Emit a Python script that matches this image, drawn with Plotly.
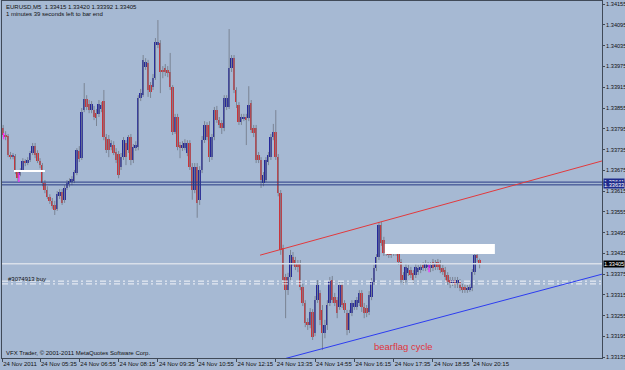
import plotly.graph_objects as go
import pandas as pd

# ---------------- data ----------------
bar_start = "2011-11-24 04:20"
n_bars = 195
bar_ms = 5 * 60 * 1000

open_ = [
1.33797,1.33777,1.33774,1.33719,1.33713,1.33716,1.33670,1.33661,1.33676,1.33702,
1.33696,1.33705,1.33725,1.33745,1.33725,1.33702,1.33690,1.33638,1.33618,1.33598,
1.33587,1.33575,1.33564,1.33600,1.33612,1.33590,1.33624,1.33635,1.33641,1.33644,
1.33667,1.33731,1.33710,1.33849,1.33881,1.33866,1.33849,1.33849,1.33840,1.33838,
1.33852,1.33875,1.33771,1.33765,1.33742,1.33748,1.33728,1.33722,1.33684,1.33713,
1.33754,1.33733,1.33771,1.33705,1.33739,1.33742,1.33884,1.33892,1.33973,1.33985,
1.33921,1.33915,1.33941,1.34037,1.34043,1.33965,1.33970,1.33965,1.33959,1.33915,
1.33786,1.33829,1.33748,1.33739,1.33739,1.33725,1.33754,1.33684,1.33618,1.33684,
1.33590,1.33676,1.33762,1.33806,1.33806,1.33713,1.33771,1.33849,1.33820,1.33812,
1.33797,1.33858,1.33858,1.33970,1.33999,1.33907,1.33864,1.33814,1.33826,1.33829,
1.33826,1.33869,1.33797,1.33797,1.33719,1.33705,1.33638,1.33647,1.33699,1.33713,
1.33771,1.33786,1.33713,1.33609,1.33451,1.33367,1.33329,1.33367,1.33425,1.33416,
1.33407,1.33407,1.33338,1.33292,1.33237,1.33228,1.33266,1.33205,1.33300,1.33321,
1.33272,1.33205,1.33228,1.33292,1.33358,1.33309,1.33300,1.33280,1.33344,1.33292,
1.33263,1.33214,1.33263,1.33280,1.33280,1.33292,1.33321,1.33280,1.33277,1.33266,
1.33309,1.33352,1.33393,1.33425,1.33517,1.33474,1.33436,1.33439,1.33439,1.33436,
1.33451,1.33439,1.33410,1.33373,1.33358,1.33378,1.33387,1.33378,1.33373,1.33381,
1.33387,1.33402,1.33393,1.33396,1.33393,1.33410,1.33396,1.33410,1.33407,1.33393,
1.33387,1.33373,1.33358,1.33350,1.33358,1.33350,1.33352,1.33338,1.33338,1.33329,
1.33329,1.33335,1.33381,1.33431,1.33415]

high = [
1.33806,1.33788,1.33780,1.33728,1.33725,1.33722,1.33676,1.33681,1.33710,1.33707,
1.33713,1.33731,1.33754,1.33754,1.33733,1.33710,1.33696,1.33647,1.33629,1.33606,
1.33595,1.33587,1.33615,1.33621,1.33621,1.33632,1.33647,1.33652,1.33658,1.33676,
1.33739,1.33745,1.33855,1.33927,1.33892,1.33878,1.33875,1.33861,1.33852,1.33878,
1.33872,1.33907,1.33780,1.33777,1.33762,1.33759,1.33739,1.33731,1.33725,1.33771,
1.33762,1.33777,1.33780,1.33751,1.33759,1.33892,1.33910,1.34008,1.33999,1.33994,
1.33930,1.33953,1.34057,1.34109,1.34051,1.33976,1.33982,1.33976,1.34014,1.33921,
1.33838,1.33838,1.33757,1.33759,1.33765,1.33762,1.33762,1.33696,1.33696,1.33696,
1.33687,1.33774,1.33817,1.33814,1.33817,1.33780,1.33858,1.33861,1.33829,1.33820,
1.33892,1.33892,1.34083,1.34008,1.34008,1.33915,1.33872,1.33838,1.33838,1.33838,
1.33918,1.33878,1.33806,1.33806,1.33728,1.33713,1.33670,1.33713,1.33728,1.33780,
1.33809,1.33849,1.33722,1.33618,1.33460,1.33376,1.33379,1.33445,1.33439,1.33425,
1.33416,1.33416,1.33347,1.33300,1.33248,1.33277,1.33274,1.33312,1.33358,1.33329,
1.33286,1.33243,1.33300,1.33367,1.33370,1.33321,1.33309,1.33352,1.33352,1.33300,
1.33272,1.33272,1.33300,1.33300,1.33309,1.33329,1.33329,1.33292,1.33286,1.33326,
1.33364,1.33402,1.33433,1.33526,1.33526,1.33483,1.33460,1.33448,1.33448,1.33454,
1.33457,1.33448,1.33419,1.33381,1.33404,1.33402,1.33396,1.33387,1.33404,1.33402,
1.33404,1.33410,1.33416,1.33410,1.33410,1.33419,1.33416,1.33419,1.33416,1.33402,
1.33396,1.33381,1.33367,1.33367,1.33367,1.33367,1.33361,1.33347,1.33347,1.33344,
1.33347,1.33390,1.33460,1.33454,1.33420]

low = [
1.33771,1.33762,1.33713,1.33707,1.33707,1.33664,1.33644,1.33658,1.33670,1.33687,
1.33690,1.33699,1.33719,1.33710,1.33696,1.33681,1.33629,1.33609,1.33592,1.33578,
1.33564,1.33546,1.33558,1.33592,1.33575,1.33581,1.33618,1.33626,1.33632,1.33638,
1.33661,1.33699,1.33705,1.33843,1.33849,1.33840,1.33840,1.33820,1.33803,1.33829,
1.33843,1.33762,1.33725,1.33713,1.33733,1.33719,1.33696,1.33652,1.33676,1.33705,
1.33690,1.33725,1.33690,1.33696,1.33731,1.33733,1.33875,1.33887,1.33965,1.33887,
1.33884,1.33907,1.33936,1.34028,1.33898,1.33941,1.33947,1.33944,1.33907,1.33777,
1.33780,1.33733,1.33710,1.33731,1.33733,1.33716,1.33676,1.33590,1.33609,1.33538,
1.33575,1.33667,1.33754,1.33762,1.33699,1.33705,1.33762,1.33812,1.33797,1.33780,
1.33788,1.33849,1.33852,1.33959,1.33898,1.33855,1.33806,1.33806,1.33817,1.33748,
1.33817,1.33783,1.33771,1.33696,1.33696,1.33624,1.33629,1.33641,1.33690,1.33705,
1.33762,1.33705,1.33600,1.33431,1.33344,1.33248,1.33315,1.33358,1.33399,1.33387,
1.33381,1.33329,1.33283,1.33222,1.33214,1.33219,1.33185,1.33196,1.33292,1.33228,
1.33156,1.33190,1.33214,1.33283,1.33292,1.33283,1.33248,1.33272,1.33277,1.33263,
1.33199,1.33205,1.33254,1.33272,1.33272,1.33283,1.33266,1.33248,1.33251,1.33257,
1.33300,1.33344,1.33384,1.33416,1.33457,1.33428,1.33428,1.33422,1.33422,1.33428,
1.33428,1.33402,1.33350,1.33344,1.33350,1.33370,1.33364,1.33350,1.33364,1.33373,
1.33378,1.33384,1.33384,1.33387,1.33381,1.33384,1.33387,1.33387,1.33378,1.33373,
1.33358,1.33344,1.33335,1.33341,1.33335,1.33335,1.33326,1.33321,1.33321,1.33321,
1.33324,1.33326,1.33373,1.33410,1.33392]

close = [
1.33777,1.33774,1.33719,1.33716,1.33719,1.33670,1.33652,1.33673,1.33702,1.33696,
1.33705,1.33725,1.33745,1.33719,1.33702,1.33690,1.33638,1.33618,1.33598,1.33587,
1.33572,1.33561,1.33606,1.33612,1.33581,1.33624,1.33638,1.33644,1.33650,1.33670,
1.33733,1.33707,1.33843,1.33881,1.33858,1.33849,1.33866,1.33829,1.33826,1.33866,
1.33864,1.33771,1.33733,1.33733,1.33754,1.33725,1.33705,1.33661,1.33713,1.33762,
1.33713,1.33771,1.33705,1.33742,1.33748,1.33884,1.33898,1.33994,1.33988,1.33907,
1.33901,1.33941,1.34046,1.34046,1.33959,1.33959,1.33959,1.33956,1.33915,1.33786,
1.33829,1.33742,1.33739,1.33748,1.33754,1.33754,1.33684,1.33618,1.33684,1.33581,
1.33676,1.33762,1.33806,1.33771,1.33713,1.33771,1.33849,1.33820,1.33806,1.33797,
1.33884,1.33884,1.33970,1.33999,1.33907,1.33872,1.33814,1.33829,1.33829,1.33820,
1.33864,1.33791,1.33783,1.33705,1.33705,1.33647,1.33661,1.33705,1.33719,1.33771,
1.33786,1.33713,1.33609,1.33445,1.33358,1.33329,1.33367,1.33431,1.33407,1.33396,
1.33396,1.33338,1.33292,1.33234,1.33228,1.33266,1.33193,1.33300,1.33344,1.33243,
1.33205,1.33228,1.33286,1.33355,1.33300,1.33292,1.33263,1.33344,1.33286,1.33272,
1.33214,1.33263,1.33292,1.33292,1.33300,1.33321,1.33280,1.33263,1.33263,1.33315,
1.33352,1.33393,1.33425,1.33517,1.33465,1.33436,1.33451,1.33431,1.33431,1.33445,
1.33436,1.33410,1.33358,1.33358,1.33396,1.33393,1.33373,1.33358,1.33396,1.33393,
1.33396,1.33393,1.33407,1.33402,1.33402,1.33393,1.33407,1.33396,1.33387,1.33381,
1.33367,1.33352,1.33350,1.33358,1.33344,1.33358,1.33335,1.33329,1.33329,1.33335,
1.33338,1.33381,1.33431,1.33422,1.33405]

# axis
x_range = ["2011-11-24 04:17:36", "2011-11-25 00:39:06"]
y_range = [1.33133, 1.34164]
price_ticks = [1.34155, 1.34095, 1.34035, 1.33975, 1.33915, 1.33855, 1.33795, 1.33735,
               1.33675, 1.33615, 1.33555, 1.33495, 1.33435, 1.33375, 1.33315, 1.33255,
               1.33195, 1.33135]
time_ticks = ["2011-11-24 04:18", "2011-11-24 05:35", "2011-11-24 06:55", "2011-11-24 08:15",
              "2011-11-24 09:35", "2011-11-24 10:55", "2011-11-24 12:15", "2011-11-24 13:35",
              "2011-11-24 14:55", "2011-11-24 16:15", "2011-11-24 17:35", "2011-11-24 18:55",
              "2011-11-24 20:15"]
time_labels = ["24 Nov 2011", "24 Nov 05:35", "24 Nov 06:55", "24 Nov 08:15", "24 Nov 09:35",
               "24 Nov 10:55", "24 Nov 12:15", "24 Nov 13:35", "24 Nov 14:55", "24 Nov 16:15",
               "24 Nov 17:35", "24 Nov 18:55", "24 Nov 20:15"]

# chart objects
hlines_navy = [1.33641, 1.33633]
navy_labels = ["1.33641", "1.33633"]
bid_price = 1.33405
order_lines = [1.33355, 1.33347]
order_text = "#3074913 buy"
order_text_price = 1.33362
red_trend_t = ["2011-11-24 13:03", "2011-11-25 00:39"]
red_trend_p = [1.33430, 1.33702]
blue_trend_t = ["2011-11-24 13:55:48", "2011-11-25 00:39"]
blue_trend_p = [1.33132, 1.33375]
rect_t = ["2011-11-24 17:17", "2011-11-24 21:01"]
rect_p = [1.33433, 1.33462]
short_line_t = ["2011-11-24 04:42", "2011-11-24 05:45"]
short_line_p = 1.33673
magenta_t = ["2011-11-24 04:21", "2011-11-24 04:52", "2011-11-24 18:47"]
magenta_top = [1.33783, 1.33667, 1.33402]
magenta_bot = [1.33765, 1.33641, 1.33381]
note_t = "2011-11-24 16:51"
note_p = 1.33167
note_text = "bearflag cycle"
title1 = "EURUSD,M5  1.33415 1.33420 1.33392 1.33405"
title2 = "1 minutes 39 seconds left to bar end"
copyright_text = "VFX Trader, \u00a9 2001-2011 MetaQuotes Software Corp."

# ---------------- styles ----------------
BG = "#a6b9d3"
FRAME = "#404a58"
UP = "#25289a"
DOWN = "#c8343a"
WICK = "#7a8494"
FONT = "Liberation Sans, Arial, sans-serif"
FS = 6
FS_Y = 5.6

times = pd.date_range(bar_start, periods=n_bars, freq="5min")

fig = go.Figure()

# wicks
wx, wy = [], []
for t, h, l in zip(times, high, low):
    wx += [t, t, None]
    wy += [l, h, None]
fig.add_trace(go.Scatter(x=wx, y=wy, mode="lines", line=dict(color=WICK, width=1),
                         hoverinfo="skip"))

# bodies
ux, ub, uh, dx, db, dh = [], [], [], [], [], []
for t, o, c in zip(times, open_, close):
    lo, hi = min(o, c), max(o, c)
    size = max(hi - lo, 0.00002)
    if c >= o:
        ux.append(t); ub.append(lo); uh.append(size)
    else:
        dx.append(t); db.append(lo); dh.append(size)
fig.add_trace(go.Bar(x=ux, y=uh, base=ub, marker=dict(color=UP, line=dict(width=0)),
                     width=bar_ms * 0.8))
fig.add_trace(go.Bar(x=dx, y=dh, base=db, marker=dict(color=DOWN, line=dict(width=0)),
                     width=bar_ms * 0.8))

# horizontal navy lines
for p in hlines_navy:
    fig.add_trace(go.Scatter(x=x_range, y=[p, p], mode="lines",
                             line=dict(color="#283a86", width=1), hoverinfo="skip"))
# bid line
fig.add_trace(go.Scatter(x=x_range, y=[bid_price, bid_price], mode="lines",
                         line=dict(color="#d9e0ea", width=1.5), hoverinfo="skip"))
# order lines
for p in order_lines:
    fig.add_trace(go.Scatter(x=x_range, y=[p, p], mode="lines",
                             line=dict(color="#f4f6fa", width=1, dash="6px,3px,2px,3px"),
                             hoverinfo="skip"))
# trend lines
fig.add_trace(go.Scatter(x=red_trend_t, y=red_trend_p, mode="lines",
                         line=dict(color="#e2393c", width=1), hoverinfo="skip"))
fig.add_trace(go.Scatter(x=blue_trend_t, y=blue_trend_p, mode="lines",
                         line=dict(color="#2c3cf0", width=1), hoverinfo="skip"))
# short white line
fig.add_trace(go.Scatter(x=short_line_t, y=[short_line_p, short_line_p], mode="lines",
                         line=dict(color="#ffffff", width=2), hoverinfo="skip"))
# magenta marks
mx, my = [], []
for t, a, b in zip(magenta_t, magenta_top, magenta_bot):
    mx += [t, t, None]
    my += [b, a, None]
fig.add_trace(go.Scatter(x=mx, y=my, mode="lines", line=dict(color="#ff22ff", width=1.2),
                         hoverinfo="skip"))

# white rectangle
fig.add_shape(type="rect", xref="x", yref="y", x0=rect_t[0], x1=rect_t[1],
              y0=rect_p[0], y1=rect_p[1], fillcolor="#ffffff", line=dict(width=0),
              layer="above")

ann = []
ann.append(dict(xref="paper", yref="paper", x=0, y=1, xanchor="left", yanchor="top",
                xshift=2, yshift=-1, text=title1, showarrow=False,
                font=dict(family=FONT, size=FS, color="#111111")))
ann.append(dict(xref="paper", yref="paper", x=0, y=1, xanchor="left", yanchor="top",
                xshift=2, yshift=-8, text=title2, showarrow=False,
                font=dict(family=FONT, size=FS, color="#111111")))
ann.append(dict(xref="paper", yref="paper", x=0, y=0, xanchor="left", yanchor="bottom",
                xshift=2, yshift=0, text=copyright_text, showarrow=False,
                font=dict(family=FONT, size=FS, color="#111111")))
ann.append(dict(xref="paper", yref="y", x=0, y=order_text_price, xanchor="left",
                yanchor="middle", xshift=4, text=order_text, showarrow=False,
                font=dict(family=FONT, size=FS, color="#111111")))
ann.append(dict(xref="x", yref="y", x=note_t, y=note_p, xanchor="left", yanchor="middle",
                text=note_text, showarrow=False,
                font=dict(family="Liberation Sans, Arial, sans-serif", size=9.5, color="#e0343a")))
# axis boxes
for p, lab in zip(hlines_navy, navy_labels):
    ann.append(dict(xref="paper", yref="y", x=1, y=p, xanchor="left", yanchor="middle",
                    xshift=1, text=lab, showarrow=False, bgcolor="#1e2a8c", borderpad=0,
                    font=dict(family=FONT, size=FS_Y, color="#ffffff")))
ann.append(dict(xref="paper", yref="y", x=1, y=bid_price, xanchor="left", yanchor="middle",
                xshift=1, text="%.5f" % bid_price, showarrow=False, bgcolor="#000000",
                borderpad=0, font=dict(family=FONT, size=FS_Y, color="#ffffff")))

fig.update_layout(
    width=625, height=370,
    margin=dict(l=2, r=23, t=1, b=12, autoexpand=False),
    paper_bgcolor=BG, plot_bgcolor=BG,
    showlegend=False, barmode="overlay", bargap=0,
    annotations=ann,
    font=dict(family=FONT, size=FS, color="#111111"),
)
fig.update_xaxes(type="date", range=x_range, showgrid=False, zeroline=False,
                 showline=True, linecolor=FRAME, linewidth=1, mirror=True,
                 ticks="outside", ticklen=3, tickcolor=FRAME, tickangle=0,
                 tickvals=time_ticks, ticktext=time_labels,
                 ticklabelposition="outside right", automargin=False,
                 tickfont=dict(family=FONT, size=FS, color="#111111"))
fig.update_yaxes(range=y_range, side="right", showgrid=False, zeroline=False,
                 showline=True, linecolor=FRAME, linewidth=1, mirror=True,
                 ticks="outside", ticklen=2, tickcolor=FRAME,
                 tickvals=price_ticks, ticktext=["%.5f" % v for v in price_ticks],
                 automargin=False,
                 tickfont=dict(family=FONT, size=FS_Y, color="#111111"))

fig.write_html("out.html", config={"displayModeBar": False})
